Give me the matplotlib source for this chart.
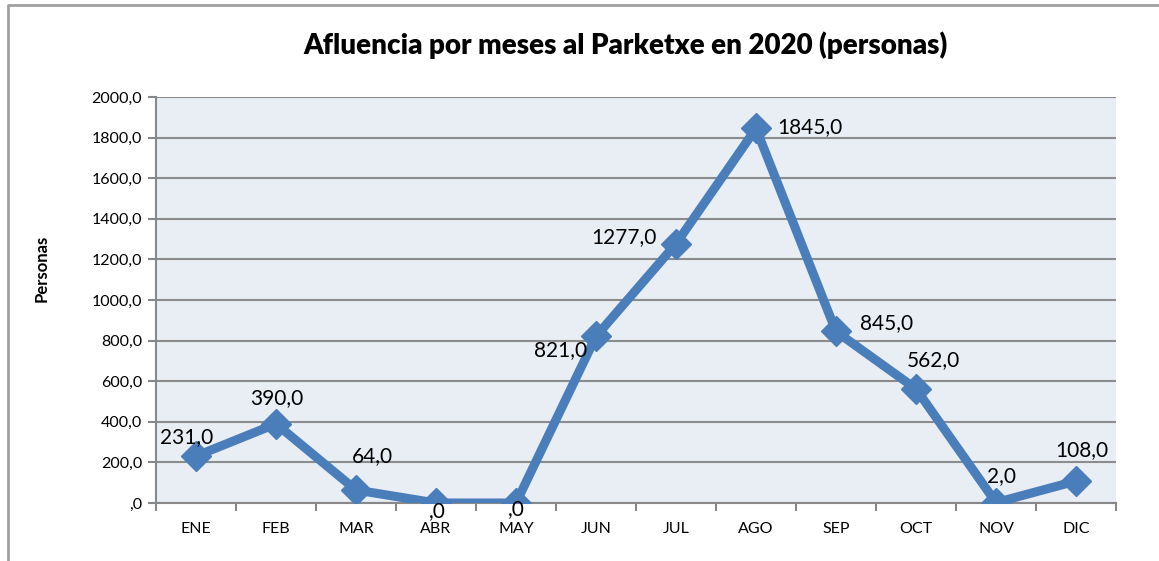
import numpy as np
import matplotlib.pyplot as plt
from matplotlib.lines import Line2D
from matplotlib.ticker import FuncFormatter

plt.rcParams['font.family'] = ['Lato', 'DejaVu Sans']

# Data
months = ['ENE', 'FEB', 'MAR', 'ABR', 'MAY', 'JUN', 'JUL', 'AGO', 'SEP', 'OCT', 'NOV', 'DIC']
visitors = [231, 390, 64, 0, 0, 821, 1277, 1845, 845, 562, 2, 108]

# label offsets in pixels (dx, dy), mimicking the excel placement
label_offsets = [(-9, 19), (1, 26), (16, 34), (1, -8), (0, -6), (-35, -14),
                 (-52, 7), (54, 1), (51, 8), (17, 29), (5, 27), (6, 31)]


def comma_fmt(v):
    s = f'{v:.1f}'.replace('.', ',')
    return s[1:] if s.startswith('0,') else s


fig = plt.figure(figsize=(11.59, 5.61), dpi=100)
ax = fig.add_axes([156/1159, 1 - 503/561, (1116-156)/1159, (503-97)/561])

x = np.arange(len(months))
blue = '#4A7EBB'
ax.plot(x, visitors, color=blue, lw=6.5, marker='D', ms=15, mfc=blue, mec=blue,
        solid_joinstyle='miter', zorder=3)

for i, v in enumerate(visitors):
    dx, dy = label_offsets[i]
    ax.annotate(comma_fmt(v), (x[i], v), xytext=(dx, dy), textcoords='offset pixels',
                ha='center', va='center', fontsize=15, color='black', zorder=4)

ax.set_xlim(-0.5, len(months) - 0.5)
ax.set_ylim(0, 2000)
ax.set_yticks(np.arange(0, 2001, 200))
ax.yaxis.set_major_formatter(FuncFormatter(lambda v, p: comma_fmt(v)))
ax.set_xticks(x)
ax.set_xticklabels(months)
ax.set_xticks(np.arange(-0.5, len(months)), minor=True)
ax.tick_params(axis='x', which='major', length=0, pad=14, labelsize=11.5)
ax.tick_params(axis='x', which='minor', length=6, width=1.5, color='#888888')
ax.tick_params(axis='y', length=6, width=1.5, color='#888888', labelsize=11.5, pad=4)

ax.set_facecolor('#E9EDF4')
ax.grid(axis='y', color='#8C8C8C', lw=1.5)
ax.set_axisbelow(True)
for s in ['top', 'right']:
    ax.spines[s].set_visible(False)
for s in ['left', 'bottom']:
    ax.spines[s].set_color('#888888')
    ax.spines[s].set_linewidth(1.5)

fig.text(625/1159, 1 - 45/561, 'Afluencia por meses al Parketxe en 2020 (personas)',
         ha='center', va='center', fontsize=20, fontweight='heavy')
fig.text(42/1159, 1 - 268/561, 'Personas', rotation=90, ha='center', va='center',
         fontsize=12, fontweight='bold')

# chart area border (only top and left visible)
fig.add_artist(Line2D([8/1159, 8/1159, 1], [0, 1 - 5/561, 1 - 5/561],
                      transform=fig.transFigure, color='#A0A0A0', lw=2))

fig.savefig('out.png', dpi=100)
